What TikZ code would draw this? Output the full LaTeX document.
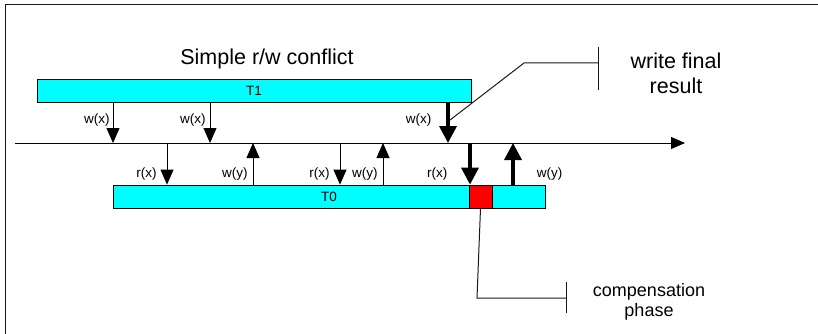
\documentclass[tikz,border=0pt]{standalone}
\usepackage{fontspec}
\setmainfont{Liberation Sans}
\usepackage{xcolor}
\usetikzlibrary{arrows.meta}
\definecolor{barcyan}{RGB}{0,255,255}
\definecolor{compred}{RGB}{255,0,0}
\definecolor{linegray}{RGB}{25,25,25}

\begin{document}
\begin{tikzpicture}[x=1pt,y=-1pt,
  bar/.style={draw=black,fill=barcyan,line width=0.8pt,minimum height=23pt,inner sep=0pt,font=\fontsize{13.5}{15}\selectfont},
  thinarrow/.style={-{Triangle[width=13pt,length=15pt]},line width=0.8pt},
  thickarrow/.style={-{Triangle[width=17pt,length=17pt]},line width=3.5pt},
  lbl/.style={inner sep=0pt,font=\fontsize{13.5}{16}\selectfont},
  callout/.style={draw=linegray,line width=1pt},
  note/.style={align=center,inner sep=0pt}]
\useasboundingbox (0,0) rectangle (818,334);
\draw[linegray,line width=1pt] (5,334) -- (5,5) -- (818,5);

\node[font=\fontsize{21.5}{25.8}\selectfont] (title) at (267,59) {Simple r/w conflict};

% the two transactions
\node[bar,minimum width=434pt] (T1) at (254,90.5) {T1};
\node[bar,minimum width=432pt] (T0) at (329,196.5) {T0};
\node[bar,fill=compred,minimum width=23pt] (comp) at (480.5,196.5) {};

% time axis
\coordinate (tstart) at (15,143);
\coordinate (tend) at (685,143);
\draw[-{Triangle[width=12pt,length=14pt]},line width=0.8pt] (tstart) -- (tend);

\coordinate (wx1) at (113,143);
\coordinate (wx2) at (210,143);
\coordinate (wx3) at (448,143);
\coordinate (rx1) at (167,143);
\coordinate (wy1) at (253,143);
\coordinate (rx2) at (340,143);
\coordinate (wy2) at (383,143);
\coordinate (rx3) at (470,143);
\coordinate (wy3) at (513,143);

% writes of T1
\draw[thinarrow] (T1.south -| wx1) -- node[lbl,left=3pt,pos=0.44] (lwx1) {w(x)} (wx1);
\draw[thinarrow] (T1.south -| wx2) -- node[lbl,left=4pt,pos=0.44] (lwx2) {w(x)} (wx2);
\draw[thickarrow] (T1.south -| wx3) -- node[lbl,left=15pt,pos=0.44] (lwx3) {w(x)} (wx3);

% reads and writes of T0
\draw[thinarrow] (rx1) -- node[lbl,left=10pt,pos=0.74] (lrx1) {r(x)} (T0.north -| rx1);
\draw[thinarrow] (T0.north -| wy1) -- node[lbl,left=5pt,pos=0.26] (lwy1) {w(y)} (wy1);
\draw[thinarrow] (rx2) -- node[lbl,left=10pt,pos=0.74] (lrx2) {r(x)} (T0.north -| rx2);
\draw[thinarrow] (T0.north -| wy2) -- node[lbl,left=5pt,pos=0.26] (lwy2) {w(y)} (wy2);
\draw[thickarrow] (rx3) -- node[lbl,left=21pt,pos=0.74] (lrx3) {r(x)} (T0.north -| rx3);
\draw[thickarrow] (T0.north -| wy3) -- node[lbl,right=22pt,pos=0.26] (lwy3) {w(y)} (wy3);

% callouts
\coordinate (wfrstart) at (450,120);
\coordinate (wfrknee) at (524,63);
\coordinate (wfrtick) at (598,63);
\draw[callout] (wfrstart) -- (wfrknee) -- (wfrtick);
\draw[callout] (wfrtick) ++(0,-16) -- ++(0,43);
\node[note,font=\fontsize{21.5}{25}\selectfont] (wfr) at (676,73.5) {write final\\result};

\coordinate (cpknee) at (477,298);
\coordinate (cptick) at (566,298);
\draw[callout] (comp.south) -- (cpknee) -- (cptick);
\draw[callout] (cptick) ++(0,-16) -- ++(0,31);
\node[note,font=\fontsize{18}{20}\selectfont] (cp) at (649,302) {compensation\\phase};
\end{tikzpicture}
\end{document}
